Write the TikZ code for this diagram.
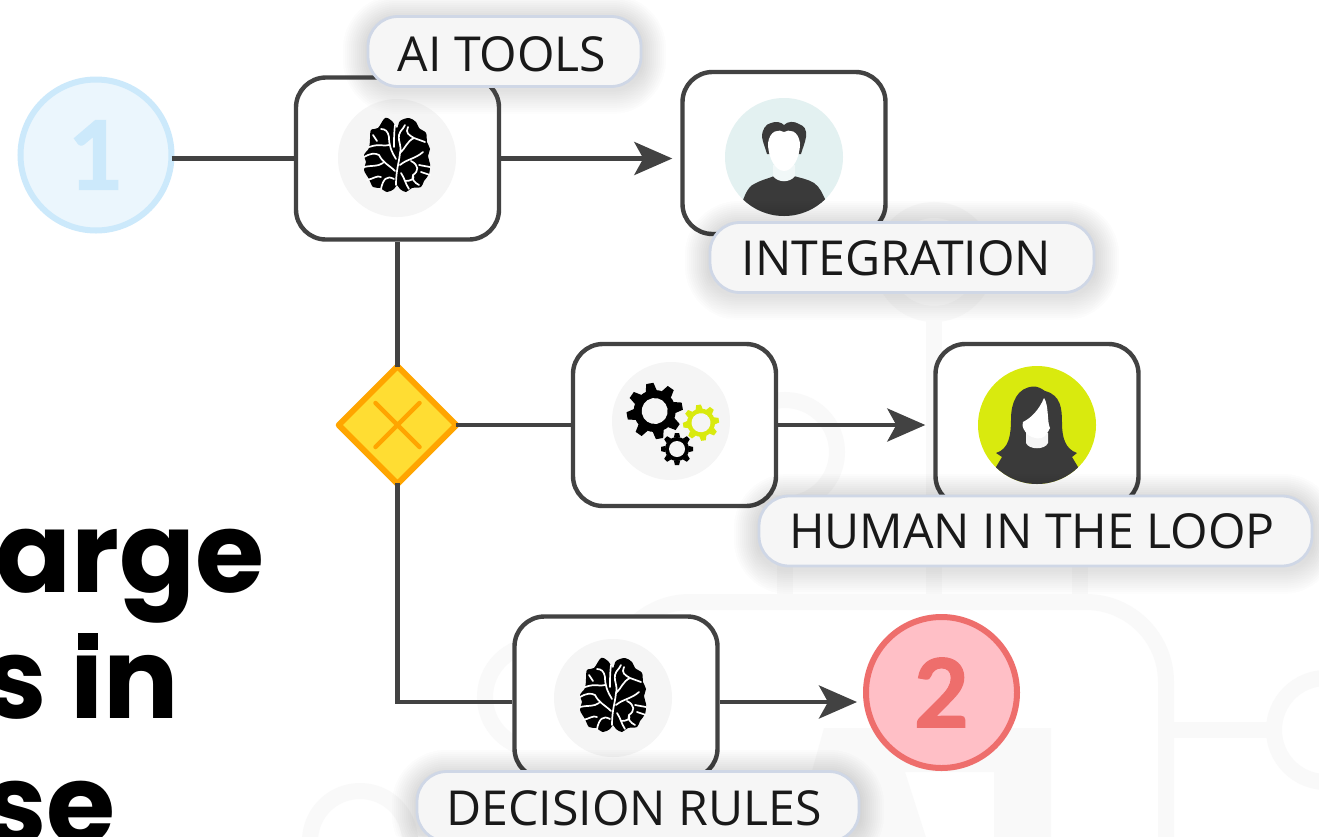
\documentclass[tikz,border=0pt]{standalone}
\usepackage{fontspec}
\setmainfont{Open Sans}
\newfontfamily\heavy{Poppins}
\newfontfamily\digits{Lato}[BoldFeatures={FakeBold=1.6}]
\usetikzlibrary{arrows.meta,shapes.geometric,calc}
\definecolor{ink}{HTML}{424242}
\definecolor{dark}{HTML}{3A3A3A}
\definecolor{lime}{HTML}{D9EA0E}
\definecolor{wm}{HTML}{F9F9F9}
\definecolor{pillfill}{HTML}{F6F6F6}
\definecolor{pilledge}{HTML}{CFD7E6}
\definecolor{iconbg}{HTML}{F5F5F5}
\definecolor{startfill}{HTML}{EBF6FD}
\definecolor{startedge}{HTML}{CCE9FB}
\definecolor{endfill}{HTML}{FFBFC6}
\definecolor{endedge}{HTML}{EE6E6C}
\definecolor{gatefill}{HTML}{FFDD33}
\definecolor{gateedge}{HTML}{FFA500}
\definecolor{manbg}{HTML}{E3F1F1}
\definecolor{shade}{HTML}{8595B8}
\tikzset{
  x=1pt,y=-1pt,
  card/.style={draw=ink,line width=4.4pt,rounded corners=30pt,fill=white,minimum width=203pt,minimum height=162pt,inner sep=0pt},
  iconbase/.style={circle,minimum size=118pt,inner sep=0pt},
  pill/.style={draw=pilledge,line width=2.8pt,fill=pillfill,rounded corners=30pt,minimum height=70pt,inner sep=0pt,
     font=\fontsize{48.2}{52}\selectfont,text=black!90},
  wire/.style={draw=ink,line width=4.4pt},
  arrowwire/.style={wire,-{Stealth[length=38pt,width=33pt,inset=9pt]}},
  numcircle/.style={circle,line width=6pt,minimum size=151pt,inner sep=0pt,font=\digits\bfseries\fontsize{95}{95}\selectfont},
  wmline/.style={draw=wm,line width=16pt},
  title/.style={anchor=base east,inner sep=0pt,font=\heavy\bfseries\fontsize{112}{112}\selectfont},
}
\newcommand{\lab}[3]{\raisebox{-#3pt}[0pt][0pt]{#1}\kern#2pt\relax}
% brain drawn around (0,0)
\newcommand{\brainicon}[2]{%
\begin{scope}[shift={(#1,#2)}]
\fill[black] plot[smooth cycle,tension=.55] coordinates {
 (0,-27)(3,-34)(12,-37)(19,-33)(22,-27)(29,-22)(30,-13)(33,-6)(31,1)(33,9)(32,19)(27,26)(24,32)(15,33)(9,37)(3,34)(0,30)
 (-3,34)(-10,37)(-17,33)(-24,32)(-28,24)(-33,15)(-31,7)(-33,0)(-28,-7)(-27,-16)(-26,-25)(-19,-27)(-12,-37)(-5,-34)};
\draw[white,line width=1.7pt,line cap=round,line join=round]
 (-1,30) .. controls (-1,15) and (2,8) .. (3,-2) .. controls (5,-10) and (1,-12) .. (2,-20)
 (2,-20) .. controls (4,-26) and (5,-24) .. (8,-30)
 (3,-2) .. controls (8,-6) and (10,-14) .. (17,-17)
 (17,-17) .. controls (12,-20) and (8,-22) .. (11,-28)
 (17,-17) -- (28,-13)
 (3,10) .. controls (10,4) and (18,4) .. (26,-3)
 (14,6) .. controls (22,10) and (22,16) .. (16,20) .. controls (14,24) and (18,28) .. (22,30)
 (22,10) -- (33,12)
 (4,18) .. controls (8,24) and (8,28) .. (12,34)
 (-2,16) .. controls (-8,10) and (-14,8) .. (-18,0) .. controls (-22,-2) and (-26,-2) .. (-33,2)
 (-14,8) .. controls (-20,12) and (-24,10) .. (-33,12)
 (-3,24) .. controls (-10,20) and (-14,24) .. (-16,34)
 (-16,22) .. controls (-20,20) and (-24,24) .. (-30,25)
 (-1,4) .. controls (-6,-4) and (-8,-10) .. (-8,-18) .. controls (-9,-24) and (-12,-26) .. (-16,-26)
 (-8,-10) .. controls (-14,-8) and (-16,-12) .. (-28,-8)
 (-3,-8) .. controls (-3,-16) and (-3,-22) .. (-2,-30)
 (24,17) -- (33,20)
 (8,26) .. controls (14,26) and (18,24) .. (16,20)
 (-20,-14) -- (-24,-20);
\end{scope}}
% gear: x y outer root hole colour holecolour rot
\newcommand{\gearicon}[8]{%
\begin{scope}[shift={(#1,#2)},rotate=#8]
\fill[#6] (0,0) circle[radius=#4];
\foreach \a in {0,45,...,315}{
  \fill[#6,rotate=\a] ({-0.2*#3},{-0.95*#4}) -- ({-0.13*#3},{-#3}) -- ({0.13*#3},{-#3}) -- ({0.2*#3},{-0.95*#4}) -- cycle;
}
\fill[#7] (0,0) circle[radius=#5];
\end{scope}}
\newcommand{\softshadow}[4]{%
  \foreach \g in {24,22,...,2}{
    \pgfmathsetlengthmacro{\rr}{30pt+\g pt}
    \fill[shade,opacity=0.006,rounded corners=\rr] ({#1-\g},{#2-\g+3}) rectangle ({#3+\g},{#4+\g+3});
  }}
\begin{document}
\begin{tikzpicture}
\useasboundingbox (0,0) rectangle (1319,836);
\clip (0,0) rectangle (1319,836);
\fill[white] (0,0) rectangle (1319,836);

% faint watermark
\begin{scope}[wmline]
\draw (934,262) circle[radius=52];
\draw (785,452) circle[radius=52];
\draw (537,697) circle[radius=52];
\draw (360,841) circle[radius=50];
\draw (1326,730) circle[radius=52];
\draw (934,314) -- (934,602);
\draw (785,504) -- (785,602);
\draw (1080,495) -- (1080,602);
\draw (610,760) -- (610,682) arc[start angle=180,end angle=270,radius=80] -- (1086,602) arc[start angle=270,end angle=360,radius=80] -- (1166,860);
\draw (1166,730) -- (1274,730);
\end{scope}
\fill[wm] (824,728) -- (1051,728) -- (1051,850) -- (994,850) -- (994,772) -- (905,772) -- (930,850) -- (790,850) -- cycle;

% cards
\node[card] (aibox) at (397.5,158.5) {};
\node[card] (intbox) at (784,153) {};
\node[card] (gearbox) at (674.5,425) {};
\node[card] (hitlbox) at (1037,425) {};
\node[card] (rulebox) at (616,697.5) {};

% start, end, gateway
\node[numcircle,draw=startedge,fill=startfill,text=startedge] (one) at (96,155) {1};
\node[numcircle,draw=endedge,fill=endfill,text=endedge] (two) at (941.5,692.5) {2};

% connectors
\draw[wire,shorten <=-3pt] (one.east |- aibox) -- (aibox.west);
\draw[arrowwire,shorten >=8pt] (aibox.east) -- (aibox.east -| intbox.west);
\coordinate (gatepos) at (397.5,425);
\node[diamond,draw=gateedge,fill=gatefill,line width=6pt,line join=round,minimum width=120pt,minimum height=120pt,inner sep=0pt] (gate) at (gatepos) {};
\draw[wire,shorten >=-5pt] (aibox.south) -- (gate.north);
\draw[wire,shorten <=-5pt] (gate.east) -- (gearbox.west);
\draw[arrowwire,shorten >=8pt] (gearbox.east) -- (gearbox.east -| hitlbox.west);
\draw[wire,shorten <=-5pt] (gate.south) |- ([yshift=-4.5pt]rulebox.west);
\draw[arrowwire,shorten >=6pt] ([yshift=-4.5pt]rulebox.east) -- ([yshift=-4.5pt]rulebox.east -| two.west);
\draw[gateedge,line width=4.5pt,line cap=round] ($(gate)+(-22,-22)$) -- ($(gate)+(22,22)$) ($(gate)+(22,-22)$) -- ($(gate)+(-22,22)$);

% icons
\node[iconbase,fill=iconbg] (aiicon) at (397,158) {};
\brainicon{397}{155}
\node[iconbase,fill=iconbg] (gearicon) at (671,421) {};
\gearicon{654.7}{411}{28}{21}{13}{black}{iconbg}{10}
\gearicon{701}{422.7}{18}{14}{9.5}{lime}{iconbg}{8}
\gearicon{677}{449}{16}{12}{8}{black}{iconbg}{0}
\node[iconbase,fill=iconbg] (ruleicon) at (613,698) {};
\brainicon{613}{695}

% man
\node[iconbase,fill=manbg] (manicon) at (784,157) {};
\begin{scope}[shift={(784,157)}]
\begin{scope}
\clip (0,0) circle[radius=59];
\fill[dark] (-42,46) .. controls (-38,34) and (-34,28) .. (-28,26) .. controls (-20,22) and (-14,21) .. (-10,19) -- (10,19) .. controls (16,21) and (24,22) .. (30,26) .. controls (36,30) and (38,36) .. (43,46) -- (43,70) -- (-42,70) -- cycle;
\end{scope}
\fill[manbg!50!white] (-11,8) -- (11,8) -- (11,19) .. controls (6,26) and (-6,26) .. (-11,19) -- cycle;
\fill[dark] (-17,-3) .. controls (-19,-10) and (-21,-14) .. (-22,-20) .. controls (-22,-28) and (-18,-33) .. (-13,-34) .. controls (-8,-36) and (-3,-35) .. (0,-32) .. controls (4,-36) and (10,-36) .. (15,-33) .. controls (20,-31) and (23,-28) .. (22,-20) .. controls (21,-14) and (19,-10) .. (17,-3) -- cycle;
\fill[white] (0,-25) .. controls (5,-28) and (14,-27) .. (16,-14) .. controls (16,2) and (8,14) .. (0,14) .. controls (-8,14) and (-16,2) .. (-16,-14) .. controls (-14,-27) and (-5,-28) .. (0,-25) -- cycle;
\end{scope}

% woman
\node[iconbase,fill=lime] (womanicon) at (1037,425) {};
\begin{scope}[shift={(1037,425)}]
\begin{scope}
\clip (0,0) circle[radius=59];
\fill[dark] (-3,-38.5) .. controls (-20,-38) and (-26,-22) .. (-26,-6) .. controls (-26,10) and (-28,24) .. (-41,28) -- (-35,32) -- (-41,42) -- (-30,70) -- (30,70) -- (41,42) -- (35,32) -- (40,28) .. controls (28,24) and (25,12) .. (25,-2) .. controls (25,-16) and (24,-30) .. (8,-34) .. controls (4,-37) and (0,-38.5) .. (-3,-38.5) -- cycle;
\end{scope}
\fill[iconbg] (-11,8) -- (11,8) -- (11,18) .. controls (8,25) and (-8,25) .. (-11,18) -- cycle;
\fill[white] (7,-27) .. controls (2,-15) and (-6,-7) .. (-14,-3) .. controls (-16,2) and (-12,6) .. (-10,9) .. controls (-4,14) and (4,15) .. (8,11) .. controls (10,8) and (12,6) .. (13,3) .. controls (10,-2) and (12,-20) .. (7,-27) -- cycle;
\end{scope}

% label shadows and pills
\softshadow{367}{16}{642}{87}
\softshadow{709}{222}{1095}{293}
\softshadow{758}{495}{1313}{567}
\softshadow{416}{771}{860}{842}
\node[pill,minimum width=273pt] (aitools) at (504.5,51.5) {\lab{AI TOOLS}{5}{19.5}};
\node[pill,minimum width=384pt] (integ) at (902,257.5) {\lab{INTEGRATION}{11}{17.5}};
\node[pill,minimum width=553pt] (hitl) at (1035.5,531) {\lab{HUMAN IN THE LOOP}{7}{17}};
\node[pill,minimum width=442pt] (rules) at (638,806.5) {\lab{DECISION RULES}{8}{18.5}};

% clipped title
\node[title] (t1) at (265,592) {arge};
\node[title] (t2) at (179,718) {s in};
\node[title] (t3) at (116,844) {se};
\fill[white] (66,620) rectangle (110,652);
\fill[black] (78,633) rectangle (98,650);
\end{tikzpicture}
\end{document}
